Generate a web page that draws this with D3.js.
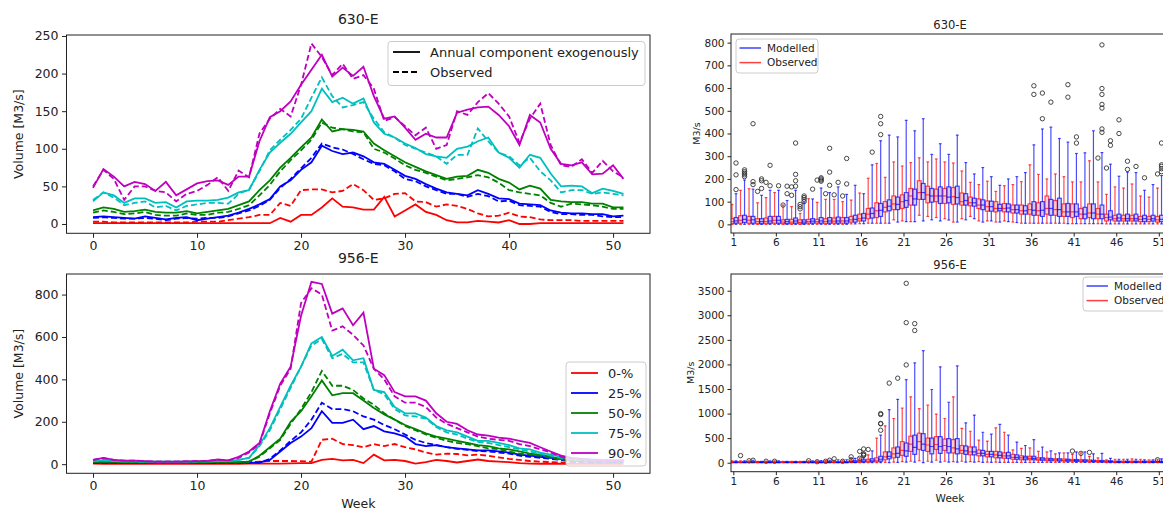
<!DOCTYPE html>
<html>
<head>
<meta charset="utf-8">
<script src="https://cdn.jsdelivr.net/npm/d3@7"></script>
<style>
body { margin: 0; background: #fff; }
svg { font-family: "DejaVu Sans", sans-serif; }
</style>
</head>
<body>
<svg id="chart" width="1163" height="511"></svg>
<script>
// ---- left panels: weekly quantiles, weeks 0..51 ----
var weeks = d3.range(0, 52);
var quantileLabels = ["0-%", "25-%", "50-%", "75-%", "90-%"];
var styleLabels = ["Annual component exogenously", "Observed"];

// 630-E, modelled (solid)
var m630_0  = [1,1,1,1,1,1,1,1,1,1, 1,1,1,1,1,1,1,1,8,3, 12,12,22,34,23,22,19,19,36,10, 18,26,16,12,5,2,2,4,3,2, 5,0,0,1,1,1,1,1,1,1, 1,1];
var m630_25 = [9,10,9,8,7,10,8,6,8,9, 5,7,9,11,15,20,26,33,50,58, 72,82,104,97,93,95,90,82,80,72, 64,60,53,47,42,40,38,45,40,34, 33,27,26,25,18,15,14,14,13,13, 10,11];
var m630_50 = [18,22,20,16,17,19,16,15,15,17, 14,16,18,20,25,30,45,58,75,88, 102,115,139,123,126,125,123,107,98,90, 82,76,70,65,60,63,64,72,68,60, 55,46,51,47,32,30,29,29,27,27, 22,22];
var m630_75 = [30,42,38,28,34,34,28,29,22,30, 31,31,32,35,42,45,72,95,108,120, 135,150,180,162,168,160,167,135,120,115, 107,101,93,90,88,100,103,110,115,95, 88,75,92,88,67,50,51,50,41,47, 44,40];
var m630_90 = [48,73,63,50,56,53,44,56,38,46, 54,57,58,52,63,63,110,142,150,163, 185,205,225,196,208,197,209,170,140,143, 128,112,120,115,115,148,152,155,156,145, 130,105,145,135,100,80,78,82,66,67, 78,60];
// 630-E, observed (dashed)
var o630_0  = [3,3,2,2,2,2,2,2,2,2, 3,3,3,5,7,9,12,12,28,24, 45,46,46,42,44,53,45,32,34,40, 41,30,29,23,26,24,20,14,10,11, 15,10,9,6,5,5,5,4,4,4, 4,4];
var o630_25 = [8,9,8,7,7,8,7,5,7,8, 7,8,8,10,14,18,24,32,48,60, 74,88,107,102,99,93,86,80,78,70, 60,57,50,45,40,40,36,40,37,30, 31,25,24,23,16,13,13,12,12,10, 9,9];
var o630_50 = [15,18,16,13,14,16,12,11,11,14, 12,12,15,16,20,25,38,52,70,85, 98,112,135,128,126,123,122,100,95,87, 78,72,68,63,58,60,62,65,62,55, 45,42,40,38,28,23,27,26,25,23, 20,20];
var o630_75 = [32,42,35,25,28,30,22,24,18,24, 26,28,28,27,40,46,70,98,112,125, 140,168,195,170,155,158,162,140,122,115, 105,100,95,90,80,92,92,127,110,95, 90,78,88,70,58,42,45,45,40,42, 40,38];
var o630_90 = [50,72,60,32,50,50,44,42,30,40, 44,52,62,44,71,62,120,140,153,143, 185,240,222,198,213,193,198,180,137,142, 130,118,128,100,105,150,145,162,174,160, 143,108,140,160,105,78,76,86,68,84, 70,62];

// 956-E, modelled (solid)
var m956_0  = [3,2,2,2,2,2,2,2,2,2, 2,2,2,2,2,3,3,3,3,4, 5,5,20,25,18,20,5,45,18,20, 15,3,10,20,15,8,15,22,15,12, 10,5,3,2,2,2,2,2,2,2, 2,2];
var m956_25 = [7,8,7,6,6,6,6,6,6,6, 6,6,7,7,7,7,8,20,60,100, 130,170,250,195,195,210,165,180,155,145, 130,95,85,90,80,75,70,65,65,60, 55,45,40,35,30,25,15,14,12,12, 10,10];
var m956_50 = [10,12,10,9,9,9,8,8,8,8, 9,9,10,10,10,12,40,80,120,200, 250,320,395,325,335,335,300,265,235,210, 185,165,145,130,120,110,100,90,85,75, 70,60,50,45,35,25,20,18,16,15, 15,15];
var m956_75 = [15,18,15,13,13,12,12,12,12,12, 13,13,15,15,20,30,90,170,270,370, 460,570,600,510,540,490,500,350,340,270, 240,240,220,180,160,150,130,110,110,100, 90,75,70,55,45,35,28,25,22,20, 20,20];
var m956_90 = [20,30,20,17,17,14,12,12,12,13, 14,16,22,18,35,60,100,250,380,460, 700,860,850,710,735,655,715,450,420,340, 320,320,300,240,200,190,160,140,135,125, 120,110,100,80,60,40,30,25,20,18, 17,16];
// 956-E, observed (dashed)
var o956_0  = [6,6,6,6,6,6,6,6,6,6, 6,6,7,7,8,10,12,15,15,15, 14,12,115,120,95,90,80,95,85,95, 80,70,55,45,50,48,42,45,40,32, 25,20,15,12,10,8,6,5,5,5, 5,5];
var o956_25 = [7,8,7,6,6,6,6,6,6,6, 6,6,7,7,7,7,8,25,65,110, 150,210,290,260,260,250,225,210,185,165, 140,115,100,90,80,72,68,62,60,55, 50,40,35,30,25,20,12,11,10,10, 10,10];
var o956_50 = [10,12,10,9,9,9,8,8,8,8, 9,9,10,10,10,12,35,75,115,190, 260,340,440,370,370,350,310,280,240,210, 180,160,140,125,110,100,95,85,75,70, 60,50,45,40,30,22,16,14,13,12, 12,12];
var o956_75 = [15,18,15,13,13,12,12,12,12,12, 13,13,15,15,20,30,85,160,260,360, 460,560,590,500,520,480,480,350,330,260, 230,225,215,175,150,140,120,105,100,90, 80,70,60,50,40,30,22,20,20,20, 20,20];
var o956_90 = [20,28,20,17,17,14,12,12,12,13, 14,16,20,18,30,55,95,240,370,450, 760,830,800,630,650,610,560,450,400,320, 290,290,270,220,190,170,150,130,120,115, 110,95,85,70,55,35,25,22,20,18, 17,16];

// ---- right panels: box plots, weeks 1..51 ----
var boxWeeks = d3.range(1, 52);
var boxTicks = [1, 6, 11, 16, 21, 26, 31, 36, 41, 46, 51];

// 630-E observed
var obs630_lo  = [0,0,0,0,0,0,0,0,0,0, 0,0,0,0,2,3,5,5,5,20, 15,12,40,35,30,25,10,25,35,15, 15,10,15,10,5,5,5,5,5,5, 3,3,3,3,2,2,2,2,2,2, 2];
var obs630_q1  = [3,5,5,3,3,5,3,3,2,5, 5,3,5,5,10,15,25,30,55,65, 70,85,110,95,100,92,88,85,82,70, 58,55,55,50,45,45,40,45,40,35, 30,25,30,25,15,15,15,15,12,12, 10];
var obs630_med = [12,18,18,12,12,18,10,10,8,12, 12,12,14,15,20,25,45,60,75,90, 100,125,140,130,125,125,122,100,95,85, 78,70,70,65,60,65,60,70,65,55, 55,45,50,45,30,25,25,25,22,22, 20];
var obs630_q3  = [25,38,35,25,28,35,20,22,20,22, 22,25,28,30,35,45,70,95,100,125, 130,158,192,168,155,158,162,138,120,112, 103,100,92,85,85,90,95,125,105,90, 90,70,90,70,45,40,40,40,35,35, 35];
var obs630_hi  = [88,150,157,95,118,140,85,78,48,113, 97,110,110,100,107,138,203,268,207,275, 257,272,293,275,288,275,270,235,185,175, 190,145,170,175,188,262,220,200,222,210, 187,187,280,187,132,165,160,178,125,120, 160];
// 630-E modelled
var mod630_lo  = [0,0,0,0,0,0,0,0,0,0, 0,0,0,0,2,3,5,5,5,10, 12,12,15,20,15,19,10,20,25,10, 15,10,12,8,5,5,5,5,5,3, 3,3,3,3,2,2,2,2,2,2, 2];
var mod630_q1  = [5,8,5,3,5,5,3,5,3,5, 5,5,5,5,10,15,28,35,60,65, 75,85,110,98,92,95,90,85,80,65, 58,60,55,50,45,40,35,40,35,35, 35,25,25,25,20,15,15,15,12,15, 12];
var mod630_med = [15,22,20,12,15,18,12,15,10,14, 15,15,15,15,22,28,48,62,80,88, 105,112,140,125,125,120,118,105,95,85, 78,70,72,65,60,62,62,70,65,55, 55,45,50,45,32,28,25,25,25,25, 22];
var mod630_q3  = [30,40,35,25,35,35,22,28,20,25, 30,30,32,30,40,48,72,92,108,120, 140,155,180,158,165,165,168,135,115,108, 102,88,90,85,82,100,100,110,115,92, 90,75,90,85,60,45,45,45,40,40, 40];
var mod630_hi  = [135,195,155,128,150,150,105,150,95,112, 160,140,165,132,172,135,262,368,393,385, 458,412,465,308,355,308,393,272,222,250, 210,172,200,210,228,350,420,428,378,362, 312,315,412,316,265,212,230,228,150,175, 215];
var obs630_out = [[4,145],[5,185],[7,85],[8,165],[8,128],[9,88],[9,78],[9,68],[11,195],[12,135],[13,130],[14,125],[44,292],[45,248],[51,222]];
var mod630_out = [[1,270],[1,218],[1,153],[2,240],[2,232],[2,225],[2,218],[2,210],[3,443],[3,188],[3,175],[4,200],[4,192],[4,158],[5,260],[5,170],[6,170],[7,168],[7,135],[8,358],[8,220],[8,192],[8,168],[9,125],[9,118],[9,110],[9,100],[10,155],[11,205],[11,200],[11,195],[11,190],[12,335],[12,230],[12,172],[13,185],[14,290],[14,178],[17,318],[18,475],[18,443],[18,395],[36,610],[36,572],[37,578],[37,465],[38,538],[40,615],[40,560],[41,385],[41,358],[44,790],[44,598],[44,572],[44,528],[44,512],[44,420],[44,405],[45,368],[45,348],[46,460],[46,400],[47,278],[47,242],[48,255],[49,205],[51,358],[51,262],[51,255],[51,245],[51,232]];

// 956-E observed
var obs956_lo  = [0,0,0,0,0,0,0,0,0,0, 0,0,0,0,0,0,0,0,5,10, 20,30,40,30,50,30,20,30,20,20, 10,10,5,5,5,5,5,5,5,5, 5,5,5,5,2,2,2,2,2,2, 2];
var obs956_q1  = [2,2,2,2,2,2,2,2,2,2, 2,2,2,2,5,10,15,20,60,100, 150,230,270,230,270,250,200,190,160,140, 120,100,90,70,60,60,50,40,40,35, 30,25,20,15,10,5,5,5,5,5, 5];
var obs956_med = [8,8,8,8,8,8,8,8,8,8, 8,8,8,8,15,25,35,50,120,180, 250,380,430,360,370,350,300,250,220,190, 170,160,140,110,100,90,70,60,60,50, 45,40,35,30,25,15,15,15,15,15, 15];
var obs956_q3  = [20,20,20,20,20,20,20,20,20,20, 20,20,20,20,35,50,70,100,220,300, 430,540,600,500,530,480,470,350,320,260, 230,230,200,170,140,130,100,90,80,75, 65,60,55,45,40,30,30,30,30,30, 30];
var obs956_hi  = [40,40,40,30,35,40,30,30,30,40, 40,45,50,50,80,100,160,500,750,900, 1110,1340,1100,1170,990,900,1340,700,640,460, 440,710,620,260,290,300,230,220,180,200, 170,200,130,100,60,70,70,80,70,60, 70];
// 956-E modelled
var mod956_lo  = [0,0,0,0,0,0,0,0,0,0, 0,0,0,0,0,0,0,0,0,5, 10,10,0,10,10,10,10,10,10,5, 5,5,5,5,5,5,5,5,5,5, 5,5,5,5,2,2,2,2,2,2, 2];
var mod956_q1  = [2,2,2,2,2,2,2,2,2,2, 2,2,2,2,5,15,20,30,80,110, 130,170,250,180,190,200,180,170,160,140, 120,100,90,70,60,60,50,40,35,30, 25,20,20,15,10,5,5,5,5,5, 5];
var mod956_med = [8,8,8,8,8,8,8,8,8,8, 8,8,8,8,15,30,40,70,130,190, 240,310,380,330,330,330,280,240,220,190, 170,150,140,110,100,90,75,60,55,50, 45,40,35,30,25,15,15,15,15,15, 15];
var mod956_q3  = [20,20,20,20,20,20,20,20,20,20, 20,20,20,20,40,60,80,130,220,320, 400,560,590,500,530,490,490,340,320,250, 230,220,210,160,130,130,100,85,80,70, 65,60,50,45,40,30,30,30,30,30, 30];
var mod956_hi  = [40,40,50,30,40,40,30,30,30,40, 45,50,60,60,90,100,240,560,1080,1290, 1690,2030,2280,1490,1950,1230,1970,810,970,620, 580,780,560,420,350,470,320,240,200,200, 220,220,180,190,90,70,70,70,60,60, 80];
var obs956_out = [[2,145],[3,40],[5,30],[6,30],[10,40],[11,20],[12,30],[13,80],[14,30],[15,120],[15,60],[16,230],[16,90],[17,270],[41,237],[42,190],[43,210],[51,60]];
var mod956_out = [[3,50],[12,50],[16,280],[16,180],[16,160],[16,150],[18,1000],[18,980],[18,800],[18,790],[18,660],[19,1620],[20,1720],[21,3650],[21,2850],[21,1990],[22,2830],[22,2690]];

var svg = d3.select("#chart");
var quantileColors = ["#ff0000", "#0000ff", "#008000", "#00bfbf", "#bf00bf"];
var textColor = "#222";

function frame(g, left, top, right, bottom) {
    g.append("rect")
        .attr("x", left).attr("y", top)
        .attr("width", right - left).attr("height", bottom - top)
        .attr("fill", "none").attr("stroke", "#222").attr("stroke-width", 1);
}

function styleAxis(sel, size) {
    sel.attr("font-size", size).attr("font-family", null);
    sel.select(".domain").remove();
    sel.selectAll("text").attr("fill", textColor);
    sel.selectAll("line").attr("stroke", "#222");
}

function linePanel(opt) {
    var x = d3.scaleLinear().domain([-2.55, 53.55]).range([opt.left, opt.right]);
    var y = d3.scaleLinear().domain(opt.yDomain).range([opt.bottom, opt.top]);
    var g = svg.append("g");

    g.append("clipPath").attr("id", "clip-" + opt.id)
        .append("rect")
        .attr("x", opt.left).attr("y", opt.top)
        .attr("width", opt.right - opt.left).attr("height", opt.bottom - opt.top);

    var line = d3.line()
        .x((d, i) => x(weeks[i]))
        .y(d => y(d));

    var lines = g.append("g").attr("clip-path", "url(#clip-" + opt.id + ")");
    opt.modelled.forEach((vals, q) => {
        lines.append("path").datum(vals)
            .attr("d", line)
            .attr("fill", "none")
            .attr("stroke", quantileColors[q])
            .attr("stroke-width", 1.8);
        lines.append("path").datum(opt.observed[q])
            .attr("d", line)
            .attr("fill", "none")
            .attr("stroke", quantileColors[q])
            .attr("stroke-width", 1.8)
            .attr("stroke-dasharray", "6,3");
    });

    frame(g, opt.left, opt.top, opt.right, opt.bottom);

    g.append("g")
        .attr("transform", "translate(" + opt.left + ",0)")
        .call(d3.axisLeft(y).tickValues(opt.yTicks).tickSize(4.5).tickPadding(3.5))
        .call(s => styleAxis(s, 12.5));
    g.append("g")
        .attr("transform", "translate(0," + opt.bottom + ")")
        .call(d3.axisBottom(x).tickValues([0, 10, 20, 30, 40, 50]).tickSize(4.5).tickPadding(3.5))
        .call(s => styleAxis(s, 12.5));

    g.append("text")
        .attr("x", (opt.left + opt.right) / 2).attr("y", opt.top - 11)
        .attr("text-anchor", "middle").attr("font-size", 14).attr("fill", textColor)
        .text(opt.title);
    g.append("text")
        .attr("transform", "translate(23," + (opt.top + opt.bottom) / 2 + ") rotate(-90)")
        .attr("text-anchor", "middle").attr("font-size", 12.5).attr("fill", textColor)
        .text("Volume [M3/s]");
    if (opt.xLabel) {
        g.append("text")
            .attr("x", (opt.left + opt.right) / 2).attr("y", opt.bottom + 35)
            .attr("text-anchor", "middle").attr("font-size", 12.5).attr("fill", textColor)
            .text(opt.xLabel);
    }
    return g;
}

function legendBox(g, x0, y0, w, h) {
    g.append("rect")
        .attr("x", x0).attr("y", y0).attr("width", w).attr("height", h)
        .attr("rx", 3)
        .attr("fill", "#fff").attr("fill-opacity", 0.8)
        .attr("stroke", "#cccccc").attr("stroke-width", 1);
}

var left = 66.5, right = 650;

var top630 = linePanel({
    id: "l630", title: "630-E",
    left: left, right: right, top: 35, bottom: 233.3,
    yDomain: [-12.4, 251.3], yTicks: [0, 50, 100, 150, 200, 250],
    modelled: [m630_0, m630_25, m630_50, m630_75, m630_90],
    observed: [o630_0, o630_25, o630_50, o630_75, o630_90]
});

// legend: line styles
legendBox(top630, 388, 41.5, 257, 44);
styleLabels.forEach((lab, i) => {
    var yy = 52 + i * 20;
    top630.append("line")
        .attr("x1", 393).attr("x2", 420).attr("y1", yy).attr("y2", yy)
        .attr("stroke", "#000").attr("stroke-width", 1.8)
        .attr("stroke-dasharray", i === 1 ? "6,3" : null);
    top630.append("text")
        .attr("x", 430).attr("y", yy + 4.5)
        .attr("font-size", 13).attr("fill", textColor)
        .text(lab);
});

var bot956 = linePanel({
    id: "l956", title: "956-E", xLabel: "Week",
    left: left, right: right, top: 274, bottom: 473.3,
    yDomain: [-43, 897], yTicks: [0, 200, 400, 600, 800],
    modelled: [m956_0, m956_25, m956_50, m956_75, m956_90],
    observed: [o956_0, o956_25, o956_50, o956_75, o956_90]
});

// legend: quantiles
legendBox(bot956, 566, 362, 80, 104);
quantileLabels.forEach((lab, i) => {
    var yy = 373 + i * 20;
    bot956.append("line")
        .attr("x1", 571).attr("x2", 598).attr("y1", yy).attr("y2", yy)
        .attr("stroke", quantileColors[i]).attr("stroke-width", 1.8);
    bot956.append("text")
        .attr("x", 608).attr("y", yy + 4.5)
        .attr("font-size", 13).attr("fill", textColor)
        .text(lab);
});

// ---- box plot panels ----
function boxPanel(opt) {
    var x = d3.scaleLinear().domain([0.73, 52.5]).range([731, 731 + 51.77 * 8.51]);
    var y = d3.scaleLinear().domain(opt.yDomain).range([opt.bottom, opt.top]);
    var g = svg.append("g");
    var bw = 3.8, cw = 1.4;

    g.append("clipPath").attr("id", "clip-" + opt.id)
        .append("rect")
        .attr("x", 731).attr("y", opt.top)
        .attr("width", 440).attr("height", opt.bottom - opt.top);
    var plot = g.append("g").attr("clip-path", "url(#clip-" + opt.id + ")");

    opt.series.forEach(s => {
        var rows = boxWeeks.map((w, i) => ({
            cx: x(w + s.off), lo: s.lo[i], q1: s.q1[i], med: s.med[i], q3: s.q3[i], hi: s.hi[i]
        }));
        var sg = plot.append("g")
            .attr("stroke", s.color).attr("stroke-opacity", 0.7).attr("stroke-width", 1.2);
        // whiskers
        sg.selectAll(".wl").data(rows).enter().append("line")
            .attr("x1", d => d.cx).attr("x2", d => d.cx)
            .attr("y1", d => y(d.lo)).attr("y2", d => y(d.q1));
        sg.selectAll(".wh").data(rows).enter().append("line")
            .attr("x1", d => d.cx).attr("x2", d => d.cx)
            .attr("y1", d => y(d.q3)).attr("y2", d => y(d.hi));
        // caps
        sg.selectAll(".cl").data(rows).enter().append("line")
            .attr("x1", d => d.cx - cw).attr("x2", d => d.cx + cw)
            .attr("y1", d => y(d.lo)).attr("y2", d => y(d.lo));
        sg.selectAll(".ch").data(rows).enter().append("line")
            .attr("x1", d => d.cx - cw).attr("x2", d => d.cx + cw)
            .attr("y1", d => y(d.hi)).attr("y2", d => y(d.hi));
        // boxes
        sg.selectAll("rect").data(rows).enter().append("rect")
            .attr("x", d => d.cx - bw / 2).attr("width", bw)
            .attr("y", d => y(d.q3)).attr("height", d => Math.max(0.5, y(d.q1) - y(d.q3)))
            .attr("fill", s.color).attr("fill-opacity", 0.2);
        // medians
        sg.selectAll(".md").data(rows).enter().append("line")
            .attr("x1", d => d.cx - bw / 2).attr("x2", d => d.cx + bw / 2)
            .attr("y1", d => y(d.med)).attr("y2", d => y(d.med));
        // fliers
        plot.append("g").selectAll("circle").data(s.out).enter().append("circle")
            .attr("cx", d => x(d[0] + s.off)).attr("cy", d => y(d[1]))
            .attr("r", 2.2)
            .attr("fill", "none").attr("stroke", "#333").attr("stroke-width", 0.9);
    });

    frame(g, 731, opt.top, 1200, opt.bottom);

    g.append("g")
        .attr("transform", "translate(731,0)")
        .call(d3.axisLeft(y).tickValues(opt.yTicks).tickFormat(d3.format("d")).tickSize(3.5).tickPadding(3))
        .call(s => styleAxis(s, 10.5));
    g.append("g")
        .attr("transform", "translate(0," + opt.bottom + ")")
        .call(d3.axisBottom(x).tickValues(boxTicks).tickSize(3.5).tickPadding(2.5))
        .call(s => styleAxis(s, 10.5));

    g.append("text")
        .attr("x", 950).attr("y", opt.top - 5)
        .attr("text-anchor", "middle").attr("font-size", 11.5).attr("fill", textColor)
        .text(opt.title);
    g.append("text")
        .attr("transform", "translate(" + opt.yLabelX + "," + (opt.top + opt.bottom) / 2 + ") rotate(-90)")
        .attr("text-anchor", "middle").attr("font-size", 9.5).attr("fill", textColor)
        .text("M3/s");
    if (opt.xLabel) {
        g.append("text")
            .attr("x", 950).attr("y", opt.bottom + 30)
            .attr("text-anchor", "middle").attr("font-size", 10.5).attr("fill", textColor)
            .text(opt.xLabel);
    }

    // legend
    var L = opt.legend;
    legendBox(g, L.x, L.y, L.w, 34);
    [["Modelled", "#0000ff"], ["Observed", "#ff0000"]].forEach((e, i) => {
        var yy = L.y + 9 + i * 14.6;
        g.append("line")
            .attr("x1", L.x + 3.5).attr("x2", L.x + 25).attr("y1", yy).attr("y2", yy)
            .attr("stroke", e[1]).attr("stroke-opacity", 0.75).attr("stroke-width", 1.5);
        g.append("text")
            .attr("x", L.x + 31).attr("y", yy + 3.8)
            .attr("font-size", 10.5).attr("fill", textColor)
            .text(e[0]);
    });
}

boxPanel({
    id: "b630", title: "630-E", top: 34, bottom: 233,
    yDomain: [-38, 838], yTicks: [0, 100, 200, 300, 400, 500, 600, 700, 800],
    yLabelX: 700,
    legend: {x: 736, y: 39, w: 82},
    series: [
        {color: "#ff0000", off: -0.15, lo: obs630_lo, q1: obs630_q1, med: obs630_med, q3: obs630_q3, hi: obs630_hi, out: obs630_out},
        {color: "#0000ff", off: 0.32, lo: mod630_lo, q1: mod630_q1, med: mod630_med, q3: mod630_q3, hi: mod630_hi, out: mod630_out}
    ]
});

boxPanel({
    id: "b956", title: "956-E", top: 274, bottom: 471.7, xLabel: "Week",
    yDomain: [-183, 3840], yTicks: [0, 500, 1000, 1500, 2000, 2500, 3000, 3500],
    yLabelX: 694,
    legend: {x: 1083, y: 277, w: 90},
    series: [
        {color: "#ff0000", off: -0.15, lo: obs956_lo, q1: obs956_q1, med: obs956_med, q3: obs956_q3, hi: obs956_hi, out: obs956_out},
        {color: "#0000ff", off: 0.32, lo: mod956_lo, q1: mod956_q1, med: mod956_med, q3: mod956_q3, hi: mod956_hi, out: mod956_out}
    ]
});
</script>
</body>
</html>
